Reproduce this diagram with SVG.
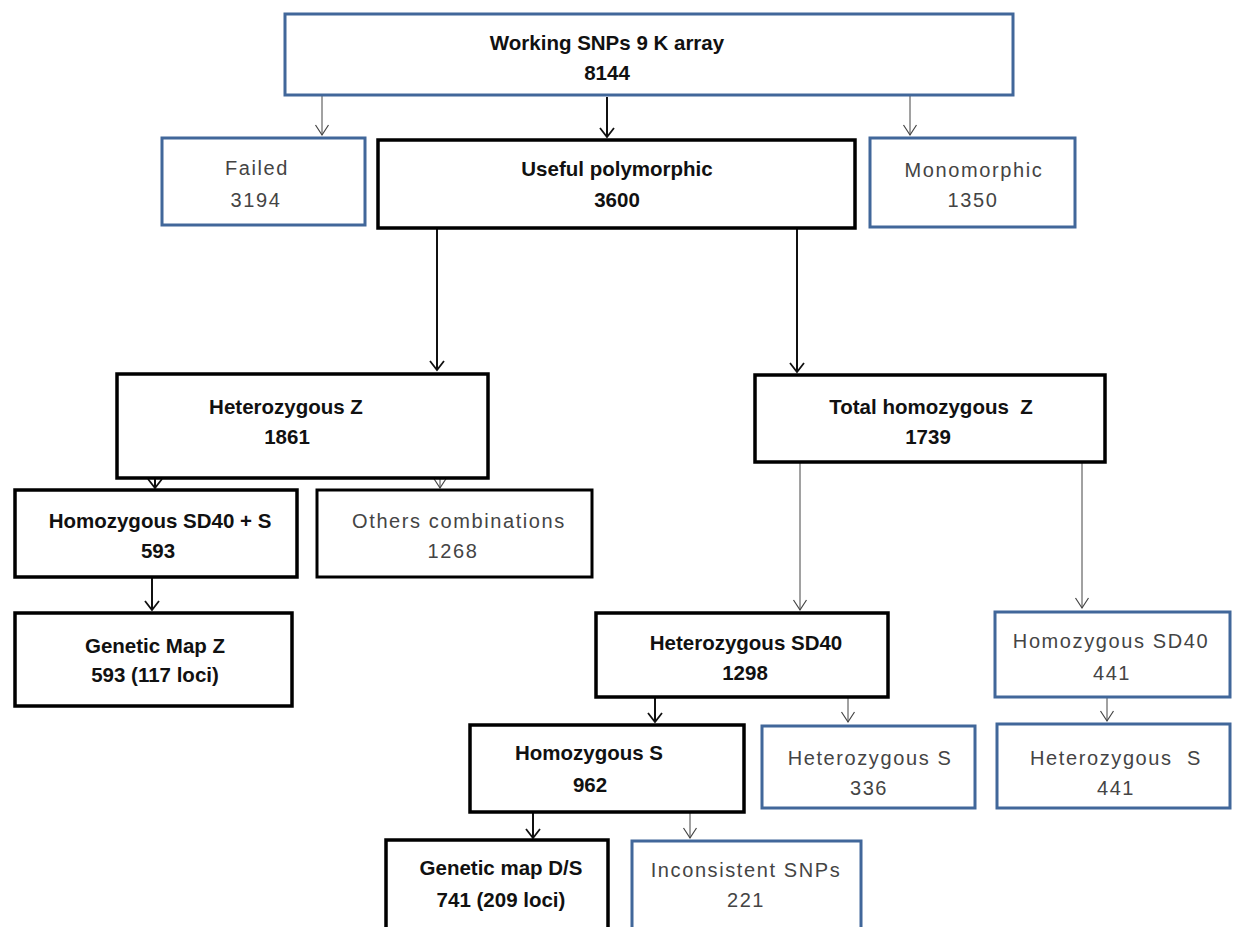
<svg xmlns="http://www.w3.org/2000/svg" width="1236" height="927" viewBox="0 0 1236 927">
<defs>
<style>
.bx{fill:#fff;stroke:#000;stroke-width:3.5}
.bl{fill:#fff;stroke:#41679A;stroke-width:3}
.tb{font-family:"Liberation Sans",Arial,sans-serif;font-size:20.5px;font-weight:bold;fill:#111;text-anchor:middle}
.tn{font-family:"Liberation Sans",Arial,sans-serif;font-size:20px;fill:#444;text-anchor:middle;letter-spacing:1.6px}
.pre{white-space:pre}
.thin{stroke:#444;stroke-width:1;fill:none;marker-end:url(#av)}
.thick{stroke:#111;stroke-width:2;fill:none;marker-end:url(#av2)}
</style>
<marker id="av" markerWidth="16" markerHeight="16" refX="8" refY="14" markerUnits="userSpaceOnUse" viewBox="0 0 16 16">
<path d="M1.5,4 L8,14 L14.5,4" fill="none" stroke="#444" stroke-width="1.2"/>
</marker>
<marker id="av2" markerWidth="16" markerHeight="16" refX="8" refY="14" markerUnits="userSpaceOnUse" viewBox="0 0 16 16">
<path d="M1,5 L8,14 L15,5" fill="none" stroke="#111" stroke-width="1.8"/>
</marker>
</defs>
<rect width="1236" height="927" fill="#fff"/>
<g id="connectors">
<path class="thin" d="M322,96 V135"/>
<path class="thick" d="M607,97 V137"/>
<path class="thin" d="M910,96 V135"/>
<path class="thick" d="M437,229 V370"/>
<path class="thick" d="M797,229 V372"/>
<path class="thick" d="M155,479 V488"/>
<path class="thin" d="M440,479 V488"/>
<path class="thick" d="M152,578 V610"/>
<path class="thin" d="M800,463 V610"/>
<path class="thin" d="M1082,463 V608"/>
<path class="thick" d="M655,698 V722"/>
<path class="thin" d="M848,698 V722"/>
<path class="thin" d="M1107,698 V721"/>
<path class="thick" d="M533,813 V838"/>
<path class="thin" d="M690,813 V838"/>
</g>
<g id="n-working"><rect class="bl" x="285" y="14" width="728" height="81"/><text class="tb" x="607" y="50">Working SNPs 9 K array</text><text class="tb" x="607" y="80">8144</text></g>
<g id="n-failed"><rect class="bl" x="162" y="138" width="203" height="87"/><text class="tn" x="257" y="175">Failed</text><text class="tn" x="256" y="207">3194</text></g>
<g id="n-useful"><rect class="bx" x="378" y="140" width="477" height="88"/><text class="tb" x="617" y="176">Useful polymorphic</text><text class="tb" x="617" y="207">3600</text></g>
<g id="n-mono"><rect class="bl" x="870" y="138" width="205" height="89"/><text class="tn" x="974" y="177">Monomorphic</text><text class="tn" x="973" y="207">1350</text></g>
<g id="n-hetz"><rect class="bx" x="117" y="374" width="371" height="104"/><text class="tb" x="286" y="414">Heterozygous Z</text><text class="tb" x="287" y="444">1861</text></g>
<g id="n-tothomz"><rect class="bx" x="755" y="375" width="350" height="87"/><text class="tb pre" x="931" y="414">Total homozygous  Z</text><text class="tb" x="928" y="444">1739</text></g>
<g id="n-homsd40s"><rect class="bx" x="15" y="490" width="282" height="87"/><text class="tb" x="160" y="528">Homozygous SD40 + S</text><text class="tb" x="158" y="558">593</text></g>
<g id="n-others"><rect class="bx" x="317" y="490" width="275" height="87" style="stroke-width:3"/><text class="tn" x="459" y="528">Others combinations</text><text class="tn" x="453" y="558">1268</text></g>
<g id="n-genmapz"><rect class="bx" x="15" y="613" width="277" height="93"/><text class="tb" x="155" y="653">Genetic Map Z</text><text class="tb" x="155" y="682">593 (117 loci)</text></g>
<g id="n-hetsd40"><rect class="bx" x="596" y="613" width="292" height="84"/><text class="tb" x="746" y="650">Heterozygous SD40</text><text class="tb" x="745" y="680">1298</text></g>
<g id="n-homsd40"><rect class="bl" x="995" y="612" width="235" height="85"/><text class="tn" x="1111" y="648">Homozygous SD40</text><text class="tn" x="1112" y="680">441</text></g>
<g id="n-homs"><rect class="bx" x="470" y="725" width="274" height="87"/><text class="tb" x="589" y="760">Homozygous S</text><text class="tb" x="590" y="792">962</text></g>
<g id="n-hets336"><rect class="bl" x="762" y="726" width="213" height="82"/><text class="tn" x="870" y="765">Heterozygous S</text><text class="tn" x="869" y="795">336</text></g>
<g id="n-hets441"><rect class="bl" x="997" y="724" width="233" height="84"/><text class="tn pre" x="1116" y="765">Heterozygous  S</text><text class="tn" x="1116" y="795">441</text></g>
<g id="n-genmapds"><rect class="bx" x="386" y="840" width="222" height="95"/><text class="tb" x="501" y="875">Genetic map D/S</text><text class="tb" x="501" y="907">741 (209 loci)</text></g>
<g id="n-incons"><rect class="bl" x="632" y="841" width="229" height="95"/><text class="tn" x="746" y="877">Inconsistent SNPs</text><text class="tn" x="746" y="907">221</text></g>
</svg>
